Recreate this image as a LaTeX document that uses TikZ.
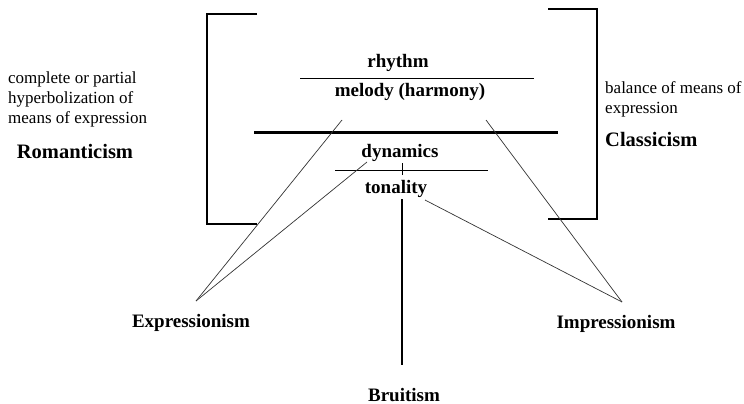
\documentclass[tikz,border=0pt]{standalone}
\usepackage{fontspec}
\setmainfont{Liberation Serif}
\usetikzlibrary{calc}
\tikzset{
  lbl/.style={font=\fontsize{19}{22}\selectfont\bfseries, inner sep=0pt},
  era/.style={font=\fontsize{20.5}{24}\selectfont\bfseries, inner sep=0pt},
  note/.style={font=\fontsize{17}{20}\selectfont, align=left, inner sep=0pt},
  link/.style={line width=0.7pt, black!80},
}

\begin{document}
\begin{tikzpicture}[x=1pt,y=-1pt]
		%%%%% START %%%%%
		\useasboundingbox (0,0) rectangle (744,404);
		
		% brackets
		\draw[line width=1.5pt] (257,14) -- (207,14) -- (207,224) -- (257,224);
		\draw[line width=1.5pt] (548,9) -- (597,9) -- (597,219) -- (548,219);
		
		\node[note, anchor=north west] (romtxt) at (8,72) {complete or partial\\hyperbolization of\\means of expression};
		\node[era, anchor=base] (romantic) at (75,158) {Romanticism};
		\node[note, anchor=north west] (clatxt) at (605,81) {balance of means of\\expression};
		\node[era, anchor=base west] (classic) at (605,146) {Classicism};
		
		\node[lbl, anchor=base] (rhythm) at (398,67) {rhythm};
		\node[lbl, anchor=base] (melody) at (410,96) {melody (harmony)};
		\node[lbl, anchor=base] (dynamics) at (400,157) {dynamics};
		\node[lbl, anchor=base] (tonality) at (396,193) {tonality};
		
		\draw[line width=1pt] (300,78) -- (534,78);
		\draw[line width=3pt] (254,132) -- (558,132);
		\draw[line width=1pt] (335,170) -- (488,170);
		\draw[line width=1pt] (402,163) -- (402,175);
		
		\node[lbl, anchor=base] (expr) at (191,327) {Expressionism};
		\node[lbl, anchor=base] (impr) at (616,328) {Impressionism};
		\node[lbl, anchor=base] (bruit) at (404,401) {Bruitism};
		
		\coordinate (m1) at (342,120);
		\coordinate (m2) at (486,120);
		\coordinate (d1) at (367,162);
		\coordinate (t1) at (425,200);
		\coordinate (t0) at (402,199);
		\coordinate (ex) at (196,301);
		\coordinate (im) at (622,302);
		\coordinate (br) at (402,365);
		
		\draw[link] (m1) -- (ex);
		\draw[link] (d1) -- (ex);
		\draw[link] (m2) -- (im);
		\draw[link] (t1) -- (im);
		\draw[line width=1.2pt] (t0) -- (br);
		%%%%% END %%%%%
\end{tikzpicture}
\end{document}
